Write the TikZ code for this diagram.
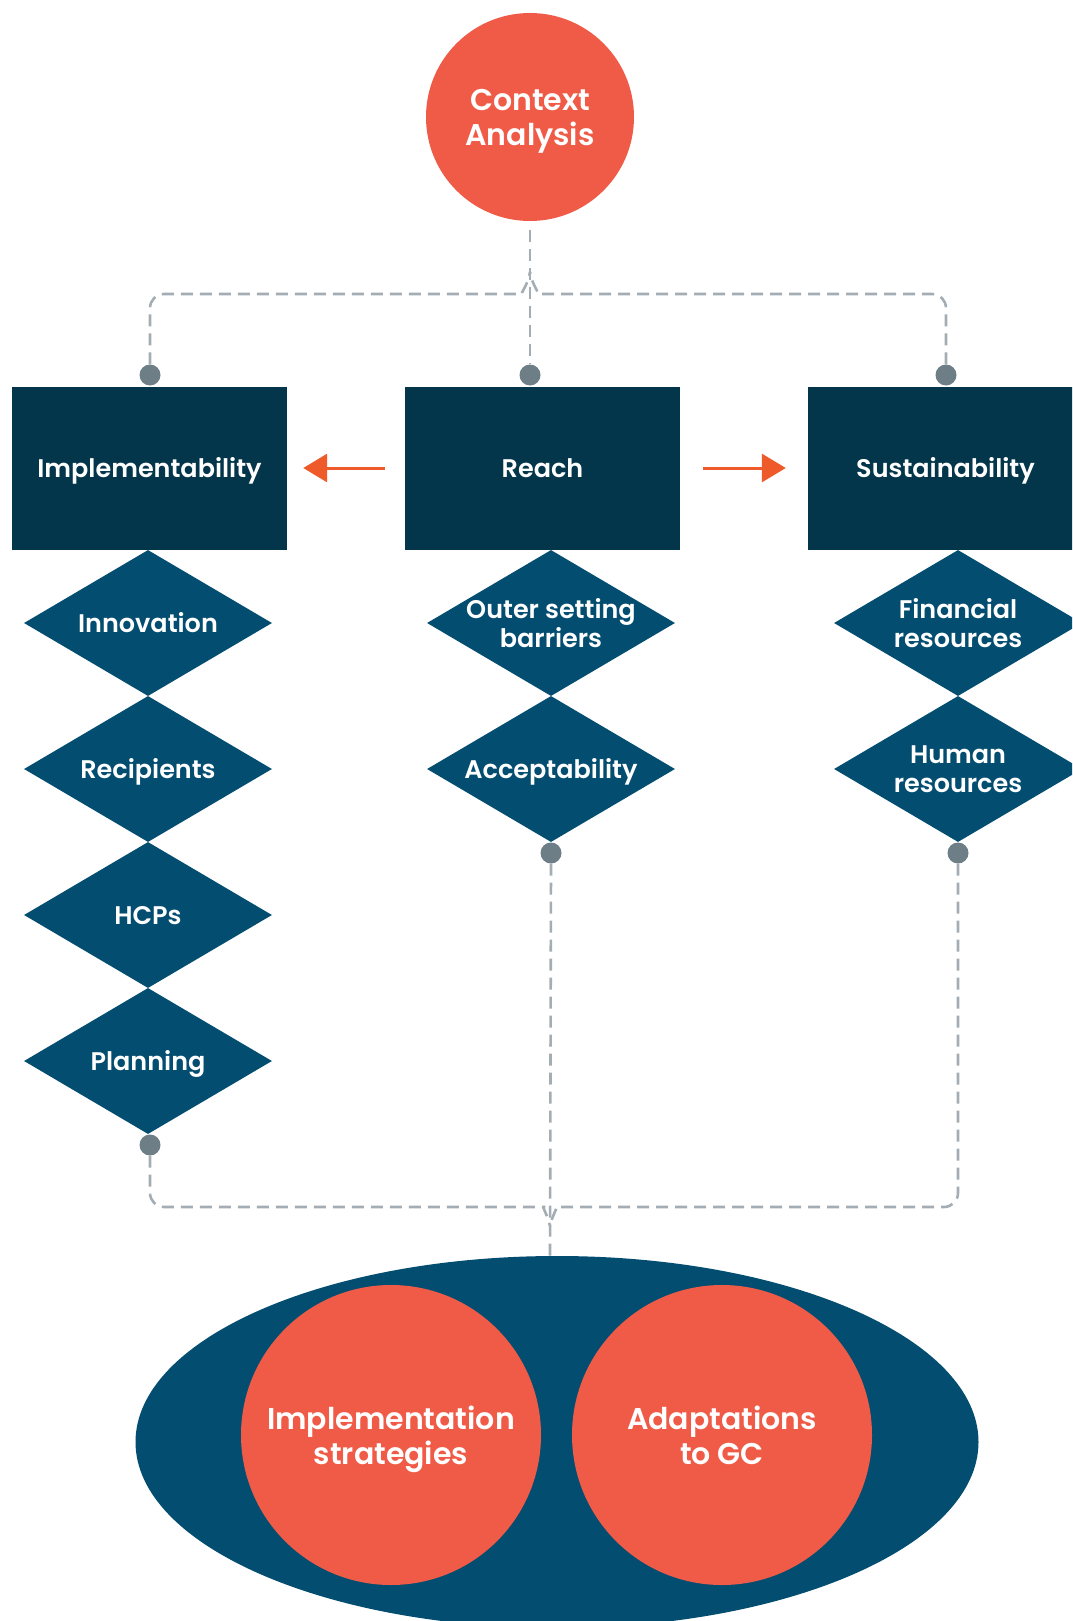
\documentclass[tikz,border=0pt]{standalone}
\usepackage{fontspec}
\setmainfont{Poppins}[UprightFont=* SemiBold, BoldFont=* Bold]
\usetikzlibrary{shapes.geometric,arrows.meta}
\definecolor{corange}{HTML}{F05B48}
\definecolor{cbox}{HTML}{03364B}
\definecolor{cdiam}{HTML}{034D70}
\definecolor{cdot}{HTML}{6D7E87}
\definecolor{cdash}{HTML}{A3ADB3}
\definecolor{carrow}{HTML}{EF5A2A}
\tikzset{
  orangecirc/.style={circle, fill=corange, inner sep=0pt},
  circtxt/.style={text=white, align=center, inner sep=0pt, font=\fontsize{30}{35}\selectfont},
  darkbox/.style={rectangle, fill=cbox, text=white, minimum width=275pt, minimum height=163pt, inner sep=0pt,
     text height=19pt, text depth=0pt, font=\fontsize{25.5}{29}\selectfont},
  diam/.style={diamond, fill=cdiam, minimum width=248pt, minimum height=146pt, inner sep=0pt},
  diamtxt/.style={text=white, align=center, inner sep=0pt, font=\fontsize{25.5}{29}\selectfont},
  diamone/.style={diamtxt, text height=19pt, text depth=0pt},
  gdot/.style={circle, fill=cdot, minimum size=21pt, inner sep=0pt},
  dashline/.style={draw=cdash, line width=2.6pt, dash pattern=on 12pt off 7pt, rounded corners=14pt},
  orangearrow/.style={draw=carrow, line width=3pt, -{Triangle[length=24pt, width=28pt]}},
}
\begin{document}
\begin{tikzpicture}[x=1pt, y=-1pt]
\useasboundingbox (0,0) rectangle (1072,1621);
\clip (0,0) rectangle (1072,1621);

% top circle
\node[orangecirc, minimum size=208pt, label={[circtxt, yshift=-4pt]center:Context\\Analysis}] (ctx) at (530,117) {};

% boxes
\node[darkbox] (impl) at (149.5,468) {Implementability};
\node[darkbox] (reach) at (542.5,468) {Reach};
\node[darkbox] (sust) at (945.5,468) {Sustainability};

% dots on boxes
\node[gdot] (dimpl) at (150,375) {};
\node[gdot] (dreach) at (530,375) {};
\node[gdot] (dsust) at (946,375) {};

% diamonds
\node[diam, label={[diamone]center:Innovation}] (inno) at (148,623) {};
\node[diam, label={[diamone]center:Recipients}] (reci) at (148,769) {};
\node[diam, label={[diamone]center:HCPs}] (hcps) at (148,915) {};
\node[diam, label={[diamone]center:Planning}] (plan) at (148,1061) {};
\node[diam, label={[diamtxt]center:Outer setting\\barriers}] (outer) at (551,623) {};
\node[diam, label={[diamone]center:Acceptability}] (accept) at (551,769) {};
\node[diam, label={[diamtxt]center:Financial\\resources}] (fin) at (958,623) {};
\node[diam, label={[diamtxt]center:Human\\resources}] (hum) at (958,769) {};

% lower dots
\node[gdot] (dplan) at (150,1145) {};
\node[gdot] (daccept) at (551,853) {};
\node[gdot] (dhum) at (958,853) {};

% arrows
\draw[orangearrow] ([xshift=-20pt]reach.west) -- ([xshift=16pt]impl.east);
\draw[orangearrow] ([xshift=23pt]reach.east) -- ([xshift=-22pt]sust.west);

% top junction
\coordinate (jtop) at (530,272);
\draw[dashline] ([yshift=-9pt]ctx.south) -- (dreach.north);
\draw[dashline] (dimpl.north) -- (150,294) -- (508,294) .. controls (520,294) and (528,285) .. (jtop);
\draw[dashline] (dsust.north) -- (946,294) -- (552,294) .. controls (540,294) and (532,285) .. (jtop);

% bottom ellipse
\node[ellipse, fill=cdiam, minimum width=843pt, minimum height=372pt, inner sep=0pt] (ell) at (557,1442) {};
\node[orangecirc, minimum size=300pt, label={[circtxt, yshift=-4pt]center:Implementation\\strategies}] (impst) at (391,1435) {};
\node[orangecirc, minimum size=300pt, label={[circtxt]center:Adaptations\\to GC}] (adapt) at (722,1435) {};

% bottom junction
\coordinate (jbot) at (550,1226);
\coordinate (etop) at (550,1258);
\draw[dashline] (daccept.south) -- (etop);
\draw[dashline] (dplan.south) -- (150,1207) -- (530,1207) .. controls (542,1207) and (548,1216) .. (jbot);
\draw[dashline] (dhum.south) -- (958,1207) -- (570,1207) .. controls (558,1207) and (552,1216) .. (jbot);
\end{tikzpicture}
\end{document}
